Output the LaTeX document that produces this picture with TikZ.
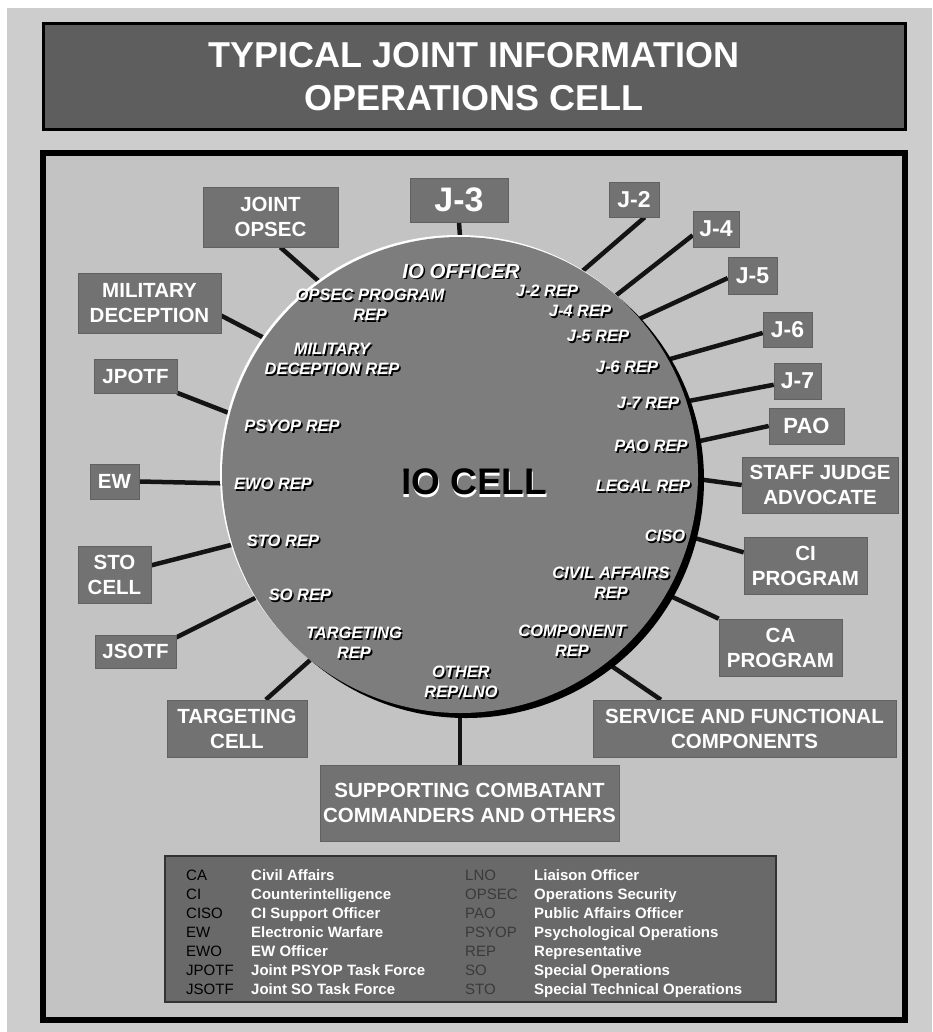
\documentclass[tikz,border=0pt]{standalone}
\usepackage{fontspec}
\usepackage{array}
\setmainfont{Liberation Sans}
\pgfdeclarelayer{back}
\pgfdeclarelayer{lines}
\pgfsetlayers{back,lines,main}

\definecolor{paper}{HTML}{CDCDCD}
\definecolor{panel}{HTML}{C3C3C3}
\definecolor{boxgray}{HTML}{727272}
\definecolor{titlegray}{HTML}{5E5E5E}
\definecolor{cellgray}{HTML}{7D7D7D}
\definecolor{keygray}{HTML}{3A3A3A}

% white lettering with a dark drop shadow, one line at a time
\newcommand\shw[1]{\leavevmode\rlap{\kern1.6pt\raisebox{-1.6pt}{\color{black}#1}}#1}
% dark lettering with a light shadow underneath
\newcommand\shb[1]{\leavevmode\rlap{\kern0.8pt\raisebox{-2.6pt}{\color{white}#1}}{\color{black}#1}}

\tikzset{
  unit/.style 2 args={fill=boxgray, draw=boxgray!85!black, line width=0.6pt,
    text=white, align=center, inner sep=0pt,
    font=\fontsize{20.5}{25}\selectfont\bfseries,
    minimum width=#1, minimum height=#2},
  jsize/.style={font=\fontsize{23}{25}\selectfont\bfseries},
  rep/.style={text=white, align=center, inner sep=0pt,
    font=\fontsize{16.5}{20}\selectfont\bfseries\itshape},
  link/.style={draw=black!92, line width=4.5pt},
}

\begin{document}
\begin{tikzpicture}[x=1pt, y=-1pt]
\useasboundingbox (0,0) rectangle (932,1032);

\begin{pgfonlayer}{back}
  \fill[white] (0,0) rectangle (932,1032);
  \fill[paper] (7,8) rectangle (932,1032);
  \draw[line width=6pt, fill=panel] (43,153.5) rectangle (905,1020);
\end{pgfonlayer}

% heading
\node[fill=titlegray, draw=black, line width=3pt, minimum width=862pt,
      minimum height=106pt, inner sep=0pt, text=white, align=center,
      font=\fontsize{36}{43}\selectfont\bfseries] (title) at (474,77)
  {TYPICAL JOINT INFORMATION\\OPERATIONS CELL};

% the cell disc with its rim light and shadow
\fill[black] (466,480) circle (238);
\fill[white] (458,473) circle (238);
\node[circle, fill=cellgray, inner sep=0pt, minimum size=476pt] (cell) at (460,475) {};

\node[inner sep=0pt, font=\fontsize{37}{40}\selectfont\bfseries] (iocell) at (474,483) {\shb{IO CELL}};

% representatives inside the cell
\node[rep, font=\fontsize{20.5}{22}\selectfont\bfseries\itshape] (ioofficer) at (461,272) {\shw{IO OFFICER}};
\node[rep] (r-opsec) at (370,306) {\shw{OPSEC PROGRAM}\\\shw{REP}};
\node[rep] (r-mildec) at (332,360) {\shw{MILITARY}\\\shw{DECEPTION REP}};
\node[rep] (r-psyop) at (292,427) {\shw{PSYOP REP}};
\node[rep] (r-j2) at (547,292) {\shw{J-2 REP}};
\node[rep] (r-j4) at (580,312) {\shw{J-4 REP}};
\node[rep] (r-j5) at (598,337) {\shw{J-5 REP}};
\node[rep] (r-j6) at (627,368) {\shw{J-6 REP}};
\node[rep] (r-j7) at (648,404) {\shw{J-7 REP}};
\node[rep] (r-pao) at (651,447) {\shw{PAO REP}};
\node[rep] (r-legal) at (643,487) {\shw{LEGAL REP}};
\node[rep] (r-ciso) at (665,537) {\shw{CISO}};
\node[rep] (r-civil) at (611,584) {\shw{CIVIL AFFAIRS}\\\shw{REP}};
\node[rep] (r-comp) at (572,642) {\shw{COMPONENT}\\\shw{REP}};
\node[rep] (r-other) at (461,683) {\shw{OTHER}\\\shw{REP/LNO}};
\node[rep] (r-tgt) at (354,644) {\shw{TARGETING}\\\shw{REP}};
\node[rep] (r-so) at (300,596) {\shw{SO REP}};
\node[rep] (r-sto) at (283,542) {\shw{STO REP}};
\node[rep] (r-ewo) at (273,485) {\shw{EWO REP}};

% surrounding staff elements
\node[unit={135pt}{60pt}] (opsec) at (270.5,217) {JOINT\\OPSEC};
\node[unit={98pt}{44pt}, font=\fontsize{34}{36}\selectfont\bfseries] (j3) at (459,200) {J-3};
\node[unit={143pt}{60pt}] (mildec) at (149.5,303) {MILITARY\\DECEPTION};
\node[unit={83pt}{34pt}] (jpotf) at (135.5,376) {JPOTF};
\node[unit={50pt}{35pt}, jsize] (j2) at (634,199.5) {J-2};
\node[unit={46pt}{36pt}, jsize] (j4) at (716,229) {J-4};
\node[unit={49pt}{37pt}, jsize] (j5) at (752.5,275.5) {J-5};
\node[unit={49pt}{35pt}, jsize] (j6) at (787.5,329.5) {J-6};
\node[unit={47pt}{36pt}, jsize] (j7) at (797.5,381) {J-7};
\node[unit={75pt}{36pt}, font=\fontsize{22}{25}\selectfont\bfseries] (pao) at (806.5,426) {PAO};
\node[unit={156pt}{56pt}] (sja) at (820,485) {STAFF JUDGE\\ADVOCATE};
\node[unit={123pt}{57pt}] (ci) at (805.5,565.5) {CI\\PROGRAM};
\node[unit={123pt}{57pt}] (ca) at (780.5,647.5) {CA\\PROGRAM};
\node[unit={303pt}{57pt}] (svc) at (744.5,728.5) {SERVICE AND FUNCTIONAL\\COMPONENTS};
\node[unit={299pt}{76pt}] (supp) at (469.5,803) {SUPPORTING COMBATANT\\COMMANDERS AND OTHERS};
\node[unit={140pt}{57pt}] (tgt) at (237,728.5) {TARGETING\\CELL};
\node[unit={81pt}{33pt}] (jsotf) at (135.5,651.5) {JSOTF};
\node[unit={73pt}{57pt}] (sto) at (114.5,574.5) {STO\\CELL};
\node[unit={49pt}{35pt}] (ew) at (114.5,481.5) {EW};

% links from each element to the cell
\begin{pgfonlayer}{lines}
  \draw[link] (opsec.-72) -- (cell.126);
  \draw[link] (j3.south) -- (cell.north);
  \draw[link] (mildec.-10) -- (cell.145.6);
  \draw[link] (jpotf.-22) -- (cell.165.6);
  \draw[link] (j2.-59) -- (cell.59.3);
  \draw[link] (j4.-165) -- (cell.49.8);
  \draw[link] (j5.186) -- (cell.41.4);
  \draw[link] (j6.188) -- (cell.29.3);
  \draw[link] (j7.189.7) -- (cell.18.4);
  \draw[link] (pao.west) -- (cell.8.9);
  \draw[link] (sja.west) -- (cell.-1);
  \draw[link] (ci.168.5) -- (cell.-15.3);
  \draw[link] (ca.155) -- (cell.-30.5);
  \draw[link] (svc.161.7) -- (cell.-52.5);
  \draw[link] (cell.south) -- (cell.south |- supp.north);
  \draw[link] (tgt.45) -- (cell.-129.4);
  \draw[link] (jsotf.19) -- (cell.-149.2);
  \draw[link] (sto.14.6) -- (cell.-163.7);
  \draw[link] (ew.east) -- (cell.-178.5);
\end{pgfonlayer}

% abbreviation key
\node[fill=boxgray!92!black, draw=black!80, line width=1.2pt, minimum width=611pt,
      minimum height=146pt, inner sep=0pt] (keybox) at (470.5,929) {};
\node[anchor=base west, inner sep=0pt, font=\fontsize{15}{19}\selectfont] (key) at (186,880) {%
  \setlength\tabcolsep{0pt}\renewcommand\arraystretch{1}%
  \begin{tabular}[t]{@{}>{\color{black}}w{l}{65pt}>{\color{white}\bfseries}w{l}{214pt}>{\color{keygray}}w{l}{69pt}>{\color{white}\bfseries}l@{}}
  CA & Civil Affairs & LNO & Liaison Officer\\
  CI & Counterintelligence & OPSEC & Operations Security\\
  CISO & CI Support Officer & PAO & Public Affairs Officer\\
  EW & Electronic Warfare & PSYOP & Psychological Operations\\
  EWO & EW Officer & REP & Representative\\
  JPOTF & Joint PSYOP Task Force & SO & Special Operations\\
  JSOTF & Joint SO Task Force & STO & Special Technical Operations
  \end{tabular}};
\end{tikzpicture}
\end{document}
